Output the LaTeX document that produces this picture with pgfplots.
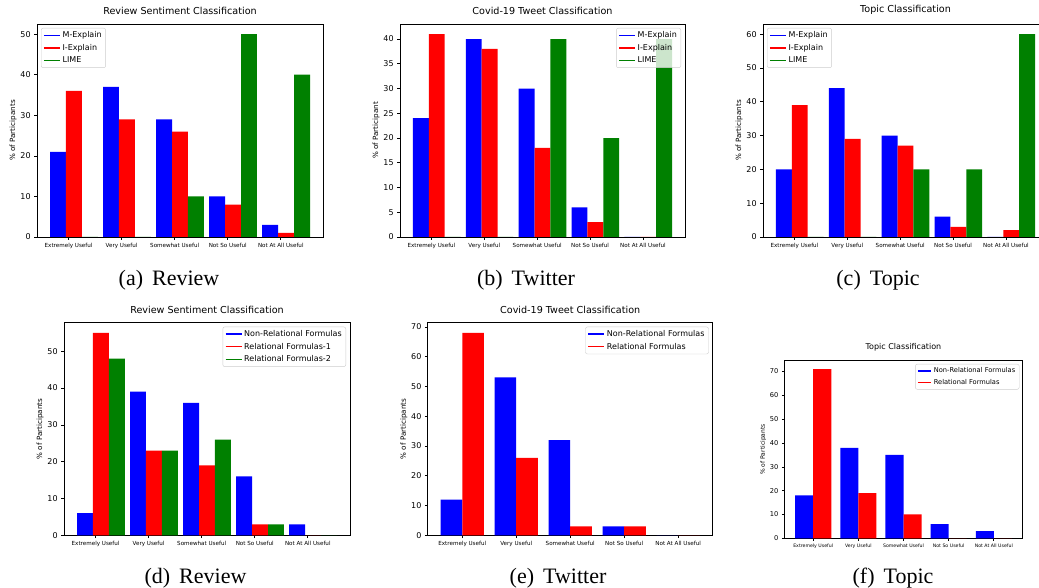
\documentclass[border=0pt]{standalone}
\usepackage{pgfplots}
\pgfplotsset{compat=1.18}
\usepackage{fontspec}
\setmainfont{DejaVu Sans}
\newfontfamily\capfont{Liberation Serif}
\definecolor{mplgreen}{rgb}{0,0.5,0}
\definecolor{mplblue}{rgb}{0,0,1}
\definecolor{mplred}{rgb}{1,0,0}

\pgfplotsset{
  mpl/.style={
    scale only axis,
    ymin=0,
    axis line style={line width=0.64pt},
    tick pos=left,
    tick align=outside,
    major tick length=2.8pt,
    every tick/.style={black, line width=0.64pt},
    /pgf/number format/assume math mode=true,
    tick label style={font=\fontsize{8}{9}\selectfont},
    xticklabel style={font=\fontsize{5.6}{6}\selectfont},
    ylabel style={font=\fontsize{7.2}{8}\selectfont},
    ylabel shift=-3pt,
    title style={font=\fontsize{9.6}{11}\selectfont},
    ylabel={\% of Participants},
    xticklabels={Extremely Useful, Very Useful, Somewhat Useful, Not So Useful, Not At All Useful},
    legend cell align=left,
    legend style={font=\fontsize{8}{9}\selectfont, draw=black!20, fill=white, rounded corners=2pt, inner xsep=2pt, inner ysep=1.5pt, row sep=1pt},
  },
  small/.style={
    major tick length=2.33pt,
    tick label style={font=\fontsize{6.67}{7.5}\selectfont},
    xticklabel style={font=\fontsize{4.67}{5}\selectfont},
    ylabel style={font=\fontsize{6}{7}\selectfont},
    title style={font=\fontsize{8}{9}\selectfont},
    legend style={font=\fontsize{6.67}{7.5}\selectfont},
  },
  legblue/.style={legend image code/.code={\draw[draw=mplblue, opacity=1, line width=1.4pt, sharp corners] (0pt,0pt) -- (16pt,0pt);}},
  legred/.style={legend image code/.code={\draw[draw=mplred, opacity=1, line width=1.4pt, sharp corners] (0pt,0pt) -- (16pt,0pt);}},
  leggreen/.style={legend image code/.code={\draw[draw=mplgreen, opacity=1, line width=1.4pt, sharp corners] (0pt,0pt) -- (16pt,0pt);}},
  legblues/.style={legend image code/.code={\draw[draw=mplblue, opacity=1, line width=1.2pt, sharp corners] (0pt,0pt) -- (13.3pt,0pt);}},
  legreds/.style={legend image code/.code={\draw[draw=mplred, opacity=1, line width=1.2pt, sharp corners] (0pt,0pt) -- (13.3pt,0pt);}},
  three/.style={xmin=-0.695, xmax=4.695, xtick={-0.1,0.9,1.9,2.9,3.9}},
  two/.style={xmin=-0.64, xmax=4.64, xtick={0,1,2,3,4}},
  bthree/.style={ybar, bar width=0.3, bar shift=0pt, fill=#1, draw=none, forget plot},
  btwo/.style={ybar, bar width=0.4, bar shift=0pt, fill=#1, draw=none, forget plot},
  ul/.style={legend style={at={(0,1)}, anchor=north west, xshift=4pt, yshift=-4pt}},
  ur/.style={legend style={at={(1,1)}, anchor=north east, xshift=-4pt, yshift=-4pt}},
}

\begin{document}
\begin{tikzpicture}
\useasboundingbox (0pt,0pt) rectangle (1039pt,588pt);

% (a)
\begin{axis}[mpl, three, ul, at={(37pt,351pt)}, anchor=south west, width=286pt, height=213pt,
  ymax=52.5, ytick={0,10,20,30,40,50}, title={Review Sentiment Classification}]
\addplot[bthree=mplblue] coordinates {(-0.3,21) (0.7,37) (1.7,29) (2.7,10) (3.7,3)};
\addplot[bthree=mplred] coordinates {(0,36) (1,29) (2,26) (3,8) (4,1)};
\addplot[bthree=mplgreen] coordinates {(0.3,0) (1.3,0) (2.3,10) (3.3,50) (4.3,40)};
\addlegendimage{legblue}\addlegendentry{M-Explain}
\addlegendimage{legred}\addlegendentry{I-Explain}
\addlegendimage{leggreen}\addlegendentry{LIME}
\end{axis}

% (b)
\begin{axis}[mpl, three, ur, at={(400pt,351pt)}, anchor=south west, width=285pt, height=213pt,
  ymax=43.05, ytick={0,5,10,15,20,25,30,35,40}, title={Covid-19 Tweet Classification},
  ylabel={\% of Participant}, legend style={fill opacity=0.8, text opacity=1}]
\addplot[bthree=mplblue] coordinates {(-0.3,24) (0.7,40) (1.7,30) (2.7,6) (3.7,0)};
\addplot[bthree=mplred] coordinates {(0,41) (1,38) (2,18) (3,3) (4,0)};
\addplot[bthree=mplgreen] coordinates {(0.3,0) (1.3,0) (2.3,40) (3.3,20) (4.3,40)};
\addlegendimage{legblue}\addlegendentry{M-Explain}
\addlegendimage{legred}\addlegendentry{I-Explain}
\addlegendimage{leggreen}\addlegendentry{LIME}
\end{axis}

% (c)
\begin{axis}[mpl, three, ul, at={(763pt,351pt)}, anchor=south west, width=285pt, height=213pt,
  ymax=63, ytick={0,10,20,30,40,50,60}, title={Topic Classification}]
\addplot[bthree=mplblue] coordinates {(-0.3,20) (0.7,44) (1.7,30) (2.7,6) (3.7,0)};
\addplot[bthree=mplred] coordinates {(0,39) (1,29) (2,27) (3,3) (4,2)};
\addplot[bthree=mplgreen] coordinates {(0.3,0) (1.3,0) (2.3,20) (3.3,20) (4.3,60)};
\addlegendimage{legblue}\addlegendentry{M-Explain}
\addlegendimage{legred}\addlegendentry{I-Explain}
\addlegendimage{leggreen}\addlegendentry{LIME}
\end{axis}

% (d)
\begin{axis}[mpl, three, ur, at={(64pt,52.7pt)}, anchor=south west, width=286pt, height=212.6pt,
  ymax=57.75, ytick={0,10,20,30,40,50}, title={Review Sentiment Classification}]
\addplot[bthree=mplblue] coordinates {(-0.3,6) (0.7,39) (1.7,36) (2.7,16) (3.7,3)};
\addplot[bthree=mplred] coordinates {(0,55) (1,23) (2,19) (3,3) (4,0)};
\addplot[bthree=mplgreen] coordinates {(0.3,48) (1.3,23) (2.3,26) (3.3,3) (4.3,0)};
\addlegendimage{legblue}\addlegendentry{Non-Relational Formulas}
\addlegendimage{legred}\addlegendentry{Relational Formulas-1}
\addlegendimage{leggreen}\addlegendentry{Relational Formulas-2}
\end{axis}

% (e)
\begin{axis}[mpl, two, ur, at={(427.7pt,52.7pt)}, anchor=south west, width=285pt, height=212.6pt,
  ymax=71.4, ytick={0,10,20,30,40,50,60,70}, title={Covid-19 Tweet Classification}]
\addplot[btwo=mplblue] coordinates {(-0.2,12) (0.8,53) (1.8,32) (2.8,3) (3.8,0)};
\addplot[btwo=mplred] coordinates {(0.2,68) (1.2,26) (2.2,3) (3.2,3) (4.2,0)};
\addlegendimage{legblue}\addlegendentry{Non-Relational Formulas}
\addlegendimage{legred}\addlegendentry{Relational Formulas}
\end{axis}

% (f)
\begin{axis}[mpl, small, two, at={(784.3pt,49.7pt)}, anchor=south west, width=238.4pt, height=177.6pt,
  legend style={at={(1,1)}, anchor=north east, xshift=-3.3pt, yshift=-3.3pt},
  ymax=74.55, ytick={0,10,20,30,40,50,60,70}, title={Topic Classification}]
\addplot[btwo=mplblue] coordinates {(-0.2,18) (0.8,38) (1.8,35) (2.8,6) (3.8,3)};
\addplot[btwo=mplred] coordinates {(0.2,71) (1.2,19) (2.2,10) (3.2,0) (4.2,0)};
\addlegendimage{legblues}\addlegendentry{Non-Relational Formulas}
\addlegendimage{legreds}\addlegendentry{Relational Formulas}
\end{axis}

% captions
\begin{scope}[every node/.style={font=\capfont\fontsize{22}{24}\selectfont, anchor=base, inner sep=0pt}]
\node at (169pt,302pt) {(a)\hspace{9pt}Review};
\node at (526pt,302pt) {(b)\hspace{9pt}Twitter};
\node at (878pt,302pt) {(c)\hspace{9pt}Topic};
\node at (195.5pt,4pt) {(d)\hspace{9pt}Review};
\node at (558pt,4pt) {(e)\hspace{9pt}Twitter};
\node at (893pt,4pt) {(f)\hspace{9pt}Topic};
\end{scope}
\end{tikzpicture}
\end{document}
